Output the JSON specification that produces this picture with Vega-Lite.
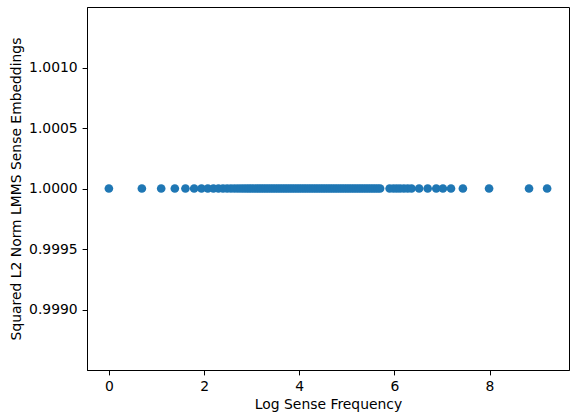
{
  "$schema": "https://vega.github.io/schema/vega-lite/v6.json",
  "width": 482,
  "height": 363,
  "autosize": {"type": "none"},
  "padding": {"left": 87, "top": 7, "right": 1, "bottom": 47},
  "background": "white",
  "config": {
    "view": {"stroke": "black", "strokeWidth": 1},
    "axis": {
      "grid": false,
      "domainColor": "black",
      "tickColor": "black",
      "tickSize": 4.9,
      "labelFont": "DejaVu Sans",
      "labelFontSize": 13.9,
      "labelColor": "black",
      "labelPadding": 4.9,
      "titleFont": "DejaVu Sans",
      "titleFontSize": 13.9,
      "titleFontWeight": "normal",
      "titleColor": "black"
    }
  },
  "data": {
    "values": [
      {"logfreq": 0, "norm": 1}, {"logfreq": 0.693, "norm": 1}, {"logfreq": 1.099, "norm": 1},
      {"logfreq": 1.386, "norm": 1}, {"logfreq": 1.609, "norm": 1}, {"logfreq": 1.792, "norm": 1},
      {"logfreq": 1.946, "norm": 1}, {"logfreq": 2.079, "norm": 1}, {"logfreq": 2.197, "norm": 1},
      {"logfreq": 2.303, "norm": 1}, {"logfreq": 2.398, "norm": 1}, {"logfreq": 2.485, "norm": 1},
      {"logfreq": 2.565, "norm": 1}, {"logfreq": 2.639, "norm": 1}, {"logfreq": 2.708, "norm": 1},
      {"logfreq": 2.773, "norm": 1}, {"logfreq": 2.833, "norm": 1}, {"logfreq": 2.89, "norm": 1},
      {"logfreq": 2.944, "norm": 1}, {"logfreq": 2.996, "norm": 1}, {"logfreq": 3.05, "norm": 1},
      {"logfreq": 3.1, "norm": 1}, {"logfreq": 3.15, "norm": 1}, {"logfreq": 3.2, "norm": 1},
      {"logfreq": 3.25, "norm": 1}, {"logfreq": 3.3, "norm": 1}, {"logfreq": 3.35, "norm": 1},
      {"logfreq": 3.4, "norm": 1}, {"logfreq": 3.45, "norm": 1}, {"logfreq": 3.5, "norm": 1},
      {"logfreq": 3.55, "norm": 1}, {"logfreq": 3.6, "norm": 1}, {"logfreq": 3.65, "norm": 1},
      {"logfreq": 3.7, "norm": 1}, {"logfreq": 3.75, "norm": 1}, {"logfreq": 3.8, "norm": 1},
      {"logfreq": 3.85, "norm": 1}, {"logfreq": 3.9, "norm": 1}, {"logfreq": 3.95, "norm": 1},
      {"logfreq": 4.0, "norm": 1}, {"logfreq": 4.05, "norm": 1}, {"logfreq": 4.1, "norm": 1},
      {"logfreq": 4.15, "norm": 1}, {"logfreq": 4.2, "norm": 1}, {"logfreq": 4.25, "norm": 1},
      {"logfreq": 4.3, "norm": 1}, {"logfreq": 4.35, "norm": 1}, {"logfreq": 4.4, "norm": 1},
      {"logfreq": 4.45, "norm": 1}, {"logfreq": 4.5, "norm": 1}, {"logfreq": 4.55, "norm": 1},
      {"logfreq": 4.6, "norm": 1}, {"logfreq": 4.65, "norm": 1}, {"logfreq": 4.7, "norm": 1},
      {"logfreq": 4.75, "norm": 1}, {"logfreq": 4.8, "norm": 1}, {"logfreq": 4.85, "norm": 1},
      {"logfreq": 4.9, "norm": 1}, {"logfreq": 4.95, "norm": 1}, {"logfreq": 5.0, "norm": 1},
      {"logfreq": 5.05, "norm": 1}, {"logfreq": 5.1, "norm": 1}, {"logfreq": 5.15, "norm": 1},
      {"logfreq": 5.2, "norm": 1}, {"logfreq": 5.25, "norm": 1}, {"logfreq": 5.3, "norm": 1},
      {"logfreq": 5.35, "norm": 1}, {"logfreq": 5.4, "norm": 1}, {"logfreq": 5.45, "norm": 1},
      {"logfreq": 5.5, "norm": 1}, {"logfreq": 5.55, "norm": 1}, {"logfreq": 5.6, "norm": 1},
      {"logfreq": 5.65, "norm": 1}, {"logfreq": 5.7, "norm": 1}, {"logfreq": 5.9, "norm": 1},
      {"logfreq": 5.98, "norm": 1}, {"logfreq": 6.05, "norm": 1}, {"logfreq": 6.12, "norm": 1},
      {"logfreq": 6.2, "norm": 1}, {"logfreq": 6.28, "norm": 1}, {"logfreq": 6.36, "norm": 1},
      {"logfreq": 6.52, "norm": 1}, {"logfreq": 6.7, "norm": 1}, {"logfreq": 6.88, "norm": 1},
      {"logfreq": 7.02, "norm": 1}, {"logfreq": 7.19, "norm": 1}, {"logfreq": 7.44, "norm": 1},
      {"logfreq": 7.99, "norm": 1}, {"logfreq": 8.83, "norm": 1}, {"logfreq": 9.21, "norm": 1}
    ]
  },
  "mark": {"type": "circle", "color": "#1f77b4", "opacity": 1, "size": 75},
  "encoding": {
    "x": {
      "field": "logfreq",
      "type": "quantitative",
      "title": "Log Sense Frequency",
      "scale": {"domain": [-0.46, 9.67], "nice": false, "zero": false},
      "axis": {"values": [0, 2, 4, 6, 8], "format": "d", "titlePadding": 4}
    },
    "y": {
      "field": "norm",
      "type": "quantitative",
      "title": "Squared L2 Norm LMMS Sense Embeddings",
      "scale": {"domain": [0.9985, 1.0015], "nice": false, "zero": false},
      "axis": {"values": [0.999, 0.9995, 1.0, 1.0005, 1.001], "format": ".4f", "titlePadding": 5}
    }
  }
}
